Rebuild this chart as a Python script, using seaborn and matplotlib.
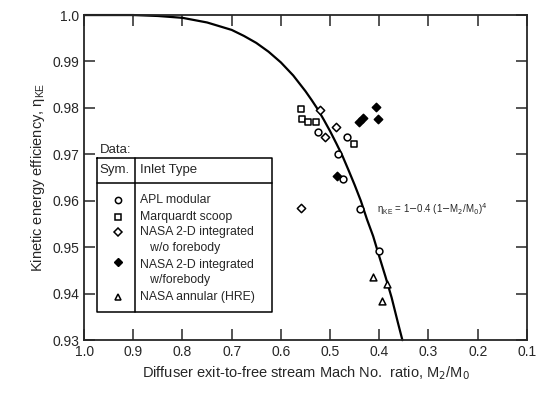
import numpy as np
import pandas as pd
import seaborn as sns
import matplotlib.pyplot as plt
from matplotlib.lines import Line2D

sns.set_style("ticks")
plt.rcParams['font.family'] = ['Liberation Sans', 'DejaVu Sans']

# data
apl_m = [0.466, 0.483, 0.473, 0.440, 0.401, 0.524]
apl_eta = [0.9737, 0.9700, 0.9647, 0.9582, 0.9491, 0.9748]

marq_m = [0.560, 0.558, 0.544, 0.528, 0.451]
marq_eta = [0.9798, 0.9777, 0.9770, 0.9770, 0.9723]

nasa_wo_m = [0.520, 0.510, 0.488, 0.560]
nasa_wo_eta = [0.9795, 0.9737, 0.9759, 0.9585]

nasa_w_m = [0.442, 0.434, 0.406, 0.403, 0.485]
nasa_w_eta = [0.9770, 0.9779, 0.9803, 0.9777, 0.9654]

hre_m = [0.413, 0.385, 0.395]
hre_eta = [0.9435, 0.9420, 0.9384]

# curve eta_KE = 1 - 0.4(1 - M2/M0)^4
curve_m = [1.0, 0.9, 0.85, 0.8, 0.75, 0.7, 0.675, 0.65, 0.625, 0.6, 0.575,
           0.55, 0.5375, 0.525, 0.5125, 0.5, 0.4875, 0.475, 0.4625, 0.45,
           0.4375, 0.425, 0.4125, 0.4, 0.3875, 0.375, 0.362, 0.353]
curve_eta = [1.0, 1.0, 0.9998, 0.9994, 0.9984, 0.9968, 0.9955, 0.9940,
             0.9921, 0.9898, 0.9870, 0.9836, 0.9817, 0.9797, 0.9774,
             0.9750, 0.9724, 0.9697, 0.9666, 0.9634, 0.9600, 0.9560,
             0.9524, 0.9480, 0.9437, 0.9392, 0.9337, 0.9300]

xticks = [1.0, 0.9, 0.8, 0.7, 0.6, 0.5, 0.4, 0.3, 0.2, 0.1]
yticks = [0.93, 0.94, 0.95, 0.96, 0.97, 0.98, 0.99, 1.0]
ytick_labels = ["0.93", "0.94", "0.95", "0.96", "0.97", "0.98", "0.99", "1.0"]

groups = [
    ("APL modular", apl_m, apl_eta, "o", "white"),
    ("Marquardt scoop", marq_m, marq_eta, "s", "white"),
    ("NASA 2-D w/o", nasa_wo_m, nasa_wo_eta, "D", "white"),
    ("NASA 2-D w/", nasa_w_m, nasa_w_eta, "D", "black"),
    ("NASA annular", hre_m, hre_eta, "^", "white"),
]

fig = plt.figure(figsize=(5.46, 3.96), dpi=100)
ax = fig.add_axes([0.154, 0.141, 0.811, 0.821])

curve = pd.DataFrame({"M": curve_m, "eta": curve_eta})
sns.lineplot(data=curve, x="M", y="eta", ax=ax, color="black", lw=1.6,
             sort=False, estimator=None, clip_on=False)

for name, m, e, mk, fc in groups:
    d = pd.DataFrame({"M": m, "eta": e})
    s = 24 if mk != "D" else 18
    sns.scatterplot(data=d, x="M", y="eta", ax=ax, marker=mk, s=s,
                    facecolor=fc, edgecolor="black", linewidth=1.1, zorder=3)

ax.set_xlim(1.0, 0.1)
ax.set_ylim(0.93, 1.0)
ax.set_xticks(xticks)
ax.set_xticklabels([f"{v:.1f}" for v in xticks])
ax.set_yticks(yticks)
ax.set_yticklabels(ytick_labels)
ax.tick_params(direction="in", top=True, right=True, length=8, width=1.1,
               labelsize=10)
for sp in ax.spines.values():
    sp.set_linewidth(1.3)

ax.set_xlabel("Diffuser exit-to-free stream Mach No.  ratio, M$_2$/M$_0$",
              fontsize=10.5)
ax.set_ylabel("Kinetic energy efficiency, η$_{\\mathregular{KE}}$", fontsize=10.5)

ax.text(0.405, 0.9582, "η$_{\\mathregular{KE}}$ = 1$-$0.4 (1$-$M$_2$/M$_0$)$^4$",
        fontsize=7, va="center", ha="left")

# legend table
T = ax.transAxes
ax.text(0.036, 0.585, "Data:", transform=T, fontsize=9.5, va="center")
box = [(0.029, 0.56), (0.424, 0.56), (0.424, 0.086), (0.029, 0.086), (0.029, 0.56)]
ax.add_line(Line2D([p[0] for p in box], [p[1] for p in box], transform=T,
                   color="black", lw=1.1))
ax.add_line(Line2D([0.029, 0.424], [0.483, 0.483], transform=T, color="black", lw=1.1))
ax.add_line(Line2D([0.115, 0.115], [0.56, 0.086], transform=T, color="black", lw=1.1))
ax.text(0.034, 0.522, "Sym.", transform=T, fontsize=9.5, va="center")
ax.text(0.126, 0.522, "Inlet Type", transform=T, fontsize=9.5, va="center")

rows = [
    (0.431, "APL modular", "o", "white"),
    (0.378, "Marquardt scoop", "s", "white"),
    (0.332, "NASA 2-D integrated", "D", "white"),
    (0.283, "   w/o forebody", None, None),
    (0.231, "NASA 2-D integrated", None, None),
    (0.185, "   w/forebody", None, None),
    (0.132, "NASA annular (HRE)", "^", "white"),
]
for y, label, mk, fc in rows:
    ax.text(0.126, y, label, transform=T, fontsize=8.8, va="center")
    if mk:
        ax.plot(0.077, y, marker=mk, ms=4.5 if mk != "D" else 4, mfc=fc,
                mec="black", mew=1.1, transform=T, clip_on=False)
ax.plot(0.077, 0.24, marker="D", ms=4.5, mfc="black", mec="black",
        transform=T, clip_on=False)

fig.savefig("out.png", dpi=100)
